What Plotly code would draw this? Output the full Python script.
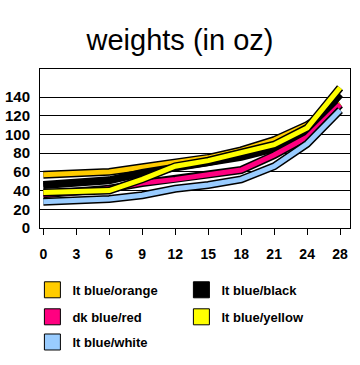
import plotly.graph_objects as go

days = ["0", "3", "6", "9", "12", "15", "18", "21", "24", "28"]
series_names = ["lt blue/orange", "lt blue/black", "dk blue/red", "lt blue/yellow", "lt blue/white"]
colors = ["#FFCC00", "#000000", "#FF0080", "#FFFF00", "#99CCFF"]

orange = [57, 58, 60, 65, 70, 75, 83, 94, 110, 133]
black = [46, 48, 51, 59, 64, 69, 76, 85, 105, 143]
red = [36, 38, 42, 48, 52, 57, 62, 78, 97, 132]
yellow = [38, 39, 40, 52, 66, 72, 80, 89, 107, 150]
white = [28, 29, 31, 35, 42, 46, 52, 66, 90, 126]
values = [orange, black, red, yellow, white]

y_ticks = [0, 20, 40, 60, 80, 100, 120, 140]

fig = go.Figure()

# draw ribbons back to front: orange, black, red, yellow, white
for i in range(5):
    fig.add_trace(go.Scatter(x=days, y=values[i], mode="lines",
                             line=dict(color="black", width=8),
                             showlegend=False, hoverinfo="skip"))
    fig.add_trace(go.Scatter(x=days, y=values[i], mode="lines",
                             line=dict(color=colors[i], width=5),
                             showlegend=False, name=series_names[i]))

# legend swatches, laid out in rows of two
legend_rows = ["legend", "legend", "legend2", "legend2", "legend3"]
for i in range(5):
    fig.add_trace(go.Scatter(x=[None], y=[None], mode="markers", name=series_names[i],
                             legend=legend_rows[i],
                             marker=dict(symbol="square", size=17, color=colors[i],
                                         line=dict(color="black", width=1))))

font_family = "Arial, Liberation Sans, sans-serif"
legend_font = dict(family=font_family, size=13, color="black", weight="bold")


def legend_at(ytop):
    return dict(orientation="h", x=0.09, y=ytop, xref="container", yref="container",
                xanchor="left", yanchor="top", entrywidth=104, entrywidthmode="pixels",
                font=legend_font, traceorder="normal", bgcolor="rgba(0,0,0,0)")


fig.update_layout(
    width=360, height=365,
    margin=dict(l=40, r=10, t=69, b=137, autoexpand=False),
    paper_bgcolor="white", plot_bgcolor="white",
    title=dict(text="weights (in oz)", x=0.5, xanchor="center", y=0.89, yanchor="middle",
               font=dict(family=font_family, size=29, color="black")),
    xaxis=dict(type="category", range=[-0.1, 9.3], showline=True, linecolor="black", mirror=True,
               ticks="outside", ticklen=6, tickcolor="black", showgrid=False,
               ticklabelstandoff=7,
               tickfont=dict(family=font_family, size=14, color="black", weight="bold")),
    yaxis=dict(range=[0, 170], tickvals=y_ticks, showline=True, linecolor="black", mirror=True,
               ticks="", showgrid=True, gridcolor="black", gridwidth=1, zeroline=False,
               ticklabelstandoff=6,
               tickfont=dict(family=font_family, size=15, color="black", weight="bold")),
    legend=legend_at(0.247),
    legend2=legend_at(0.173),
    legend3=legend_at(0.104),
    showlegend=True,
)

fig.write_html("out.html")
